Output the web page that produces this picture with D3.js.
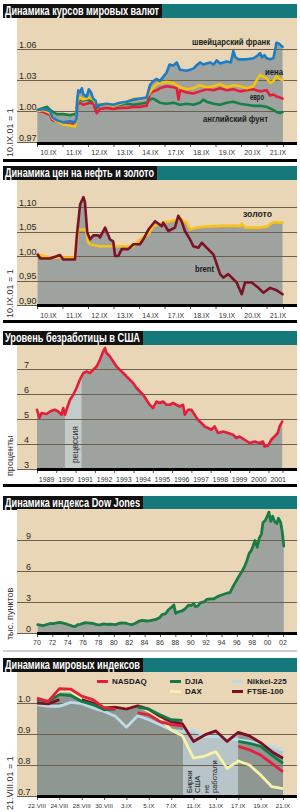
<!DOCTYPE html>
<html><head><meta charset="utf-8">
<script src="https://cdn.jsdelivr.net/npm/d3@7"></script>
<style>body{margin:0;background:#fff}svg{display:block}</style>
</head><body><svg id="c" width="300" height="812"></svg>
<script>
// ---------- DATA ----------
const dayLabels = ['10.IX','11.IX','12.IX','13.IX','14.IX','17.IX','18.IX','19.IX','20.IX','21.IX'];
const curTicks1 = ['1.06','1.03','1.00','0.97'];
const curTickVals1 = [1.06,1.03,1.00,0.97];
const chf = [[0.03,1.001],[0.25,1.002],[0.51,1.000],[0.6,0.994],[0.77,0.991],[1.03,0.989],[1.29,0.990],[1.49,0.989],[1.55,0.993],[1.58,1.012],[1.62,1.020],[1.69,1.018],[1.76,1.022],[1.82,1.016],[1.95,1.014],[2.03,1.021],[2.12,1.018],[2.2,1.012],[2.3,1.010],[2.34,1.005],[2.47,1.006],[2.73,1.007],[2.99,1.006],[3.25,1.008],[3.52,1.009],[3.78,1.011],[4.04,1.012],[4.30,1.013],[4.43,1.025],[4.56,1.029],[4.69,1.031],[4.82,1.029],[4.95,1.033],[5.08,1.037],[5.2,1.045],[5.35,1.044],[5.48,1.047],[5.61,1.040],[5.87,1.039],[6.13,1.041],[6.25,1.044],[6.39,1.047],[6.52,1.045],[6.65,1.046],[6.79,1.047],[6.92,1.045],[7.05,1.049],[7.18,1.046],[7.44,1.048],[7.6,1.047],[7.70,1.058],[7.78,1.052],[7.90,1.050],[8.22,1.050],[8.48,1.051],[8.62,1.053],[8.75,1.056],[8.82,1.052],[8.92,1.054],[9.01,1.051],[9.14,1.050],[9.27,1.051],[9.33,1.058],[9.39,1.066],[9.5,1.065],[9.63,1.062]];
const jpy = [[0.03,1.000],[0.25,1.001],[0.51,0.998],[0.6,0.993],[0.77,0.990],[1.03,0.987],[1.29,0.986],[1.49,0.985],[1.55,0.990],[1.58,1.010],[1.69,1.013],[1.82,1.011],[1.95,1.012],[2.08,1.013],[2.21,1.011],[2.34,1.006],[2.47,1.007],[2.73,1.006],[2.99,1.005],[3.25,1.007],[3.52,1.009],[3.78,1.012],[4.04,1.011],[4.30,1.013],[4.43,1.018],[4.56,1.023],[4.69,1.026],[4.82,1.027],[5.08,1.028],[5.35,1.027],[5.61,1.023],[5.87,1.021],[6.13,1.022],[6.39,1.025],[6.65,1.023],[6.92,1.024],[7.18,1.026],[7.44,1.023],[7.70,1.025],[7.96,1.024],[8.22,1.022],[8.48,1.024],[8.62,1.030],[8.75,1.035],[8.88,1.033],[9.01,1.032],[9.14,1.027],[9.27,1.029],[9.39,1.034],[9.53,1.031],[9.63,1.030]];
const eur = [[0.03,1.000],[0.25,0.999],[0.51,0.996],[0.6,0.991],[0.77,0.990],[1.03,0.988],[1.29,0.987],[1.49,0.988],[1.55,0.990],[1.58,1.006],[1.69,1.008],[1.82,1.006],[1.95,1.007],[2.08,1.008],[2.21,1.007],[2.34,0.998],[2.47,1.002],[2.73,1.003],[2.99,1.002],[3.25,1.003],[3.52,1.003],[3.78,1.004],[4.04,1.004],[4.30,1.005],[4.43,1.017],[4.56,1.019],[4.69,1.020],[4.82,1.022],[5.08,1.024],[5.35,1.023],[5.48,1.022],[5.55,1.011],[5.61,1.020],[5.87,1.018],[6.13,1.017],[6.39,1.019],[6.65,1.021],[6.92,1.020],[7.18,1.022],[7.44,1.020],[7.70,1.021],[7.96,1.019],[8.22,1.020],[8.48,1.021],[8.75,1.019],[9.01,1.020],[9.14,1.015],[9.27,1.016],[9.39,1.014],[9.53,1.013],[9.63,1.012]];
const gbp = [[0.03,1.001],[0.25,1.003],[0.4,1.004],[0.51,1.001],[0.77,0.997],[1.03,0.997],[1.29,0.996],[1.49,0.997],[1.55,0.999],[1.58,1.010],[1.69,1.011],[1.82,1.010],[1.95,1.011],[2.08,1.010],[2.21,1.009],[2.34,1.003],[2.47,1.006],[2.73,1.006],[2.99,1.005],[3.25,1.006],[3.52,1.007],[3.78,1.006],[4.04,1.007],[4.30,1.008],[4.43,1.011],[4.56,1.012],[4.69,1.010],[4.82,1.008],[5.08,1.007],[5.35,1.008],[5.61,1.006],[5.87,1.007],[6.13,1.006],[6.39,1.008],[6.52,1.011],[6.65,1.009],[6.92,1.007],[7.18,1.006],[7.44,1.008],[7.70,1.009],[7.96,1.007],[8.22,1.006],[8.48,1.005],[8.75,1.005],[9.01,1.004],[9.27,1.001],[9.39,0.999],[9.53,0.998],[9.63,0.999]];

const oilTicks = ['1,10','1,05','1,00','0,95','0,90'];
const oilTickVals = [1.10,1.05,1.00,0.95,0.90];
const brent = [[0.03,1.003],[0.12,0.995],[0.51,0.995],[0.90,1.002],[1.03,0.993],[1.49,0.993],[1.56,1.040],[1.69,1.105],[1.82,1.120],[1.88,1.110],[1.97,1.048],[2.08,1.034],[2.21,1.042],[2.41,1.042],[2.47,1.038],[2.67,1.058],[2.86,1.034],[2.99,1.030],[3.06,1.000],[3.19,1.000],[3.32,1.014],[3.58,1.014],[3.78,1.024],[4.04,1.024],[4.17,1.034],[4.37,1.054],[4.63,1.071],[4.89,1.061],[4.95,1.068],[5.15,1.051],[5.41,1.058],[5.54,1.082],[5.67,1.071],[5.80,1.051],[6.0,1.034],[6.13,1.020],[6.33,1.017],[6.46,1.027],[6.65,1.017],[6.92,1.003],[7.18,0.963],[7.31,0.956],[7.50,0.963],[7.83,0.946],[8.03,0.922],[8.16,0.946],[8.42,0.946],[8.68,0.935],[8.88,0.925],[9.14,0.935],[9.40,0.930],[9.63,0.922]];
const gold = [[0.03,1.003],[0.51,0.997],[1.49,0.997],[1.62,1.054],[1.92,1.054],[2.01,1.027],[2.08,1.024],[2.47,1.020],[3.12,1.020],[3.78,1.020],[4.04,1.034],[4.37,1.044],[4.56,1.061],[4.95,1.068],[5.22,1.071],[5.61,1.076],[5.87,1.068],[6.0,1.054],[6.26,1.058],[6.65,1.060],[7.44,1.062],[7.96,1.061],[8.03,1.066],[8.16,1.058],[8.75,1.058],[9.01,1.060],[9.27,1.069],[9.63,1.068]];

const yearLabels = ['1989','1990','1991','1992','1993','1994','1995','1996','1997','1998','1999','2000','2001'];
const unempTicks = [7,6,5,4,3];
const unemp = [[1989.0,5.37],[1989.12,5.04],[1989.24,5.24],[1989.5,5.2],[1989.67,5.3],[1989.93,5.37],[1990.1,5.3],[1990.28,5.17],[1990.36,5.44],[1990.45,5.17],[1990.53,5.37],[1990.71,5.77],[1990.88,5.97],[1991.05,6.24],[1991.22,6.57],[1991.4,6.84],[1991.57,6.9],[1991.74,6.84],[1991.91,6.97],[1992.09,7.1],[1992.26,7.37],[1992.43,7.7],[1992.52,7.84],[1992.6,7.64],[1992.78,7.5],[1992.95,7.3],[1993.12,7.1],[1993.29,6.97],[1993.47,6.84],[1993.64,6.7],[1993.81,6.57],[1993.98,6.44],[1994.16,6.24],[1994.33,6.1],[1994.5,5.97],[1994.67,5.77],[1994.84,5.57],[1995.02,5.44],[1995.19,5.7],[1995.36,5.64],[1995.53,5.7],[1995.71,5.57],[1995.88,5.57],[1996.05,5.64],[1996.22,5.57],[1996.4,5.5],[1996.57,5.57],[1996.66,5.17],[1996.83,5.37],[1997.0,5.37],[1997.17,5.17],[1997.34,4.97],[1997.52,4.84],[1997.69,4.7],[1997.86,4.64],[1998.03,4.57],[1998.21,4.7],[1998.38,4.44],[1998.64,4.5],[1998.9,4.44],[1999.16,4.37],[1999.33,4.24],[1999.5,4.3],[1999.76,4.17],[2000.02,4.04],[2000.28,4.1],[2000.53,4.04],[2000.71,4.1],[2000.79,3.9],[2000.97,3.93],[2001.14,4.17],[2001.31,4.3],[2001.48,4.44],[2001.57,4.7],[2001.71,4.9]];
const recession = [1990.45, 1991.31];

const dowLabels = ['70','72','74','76','78','80','82','84','86','88','90','92','94','96','98','00','02'];
const dowTicks = [9,6,3,0];
const dow = [[1970.1,0.80],[1970.8,0.72],[1971.7,0.92],[1972.1,0.90],[1972.6,0.97],[1973.0,1.02],[1973.4,0.95],[1973.9,0.85],[1974.5,0.70],[1974.96,0.62],[1975.3,0.80],[1975.6,0.84],[1976.3,1.0],[1976.6,0.98],[1976.9,0.96],[1977.3,0.92],[1977.8,0.82],[1978.2,0.78],[1978.65,0.88],[1979.1,0.84],[1979.5,0.86],[1980.2,0.80],[1980.6,0.92],[1981.04,0.97],[1981.5,0.95],[1981.9,0.87],[1982.3,0.80],[1982.8,0.95],[1983.2,1.12],[1983.65,1.22],[1984.3,1.16],[1984.7,1.2],[1985.2,1.28],[1985.6,1.35],[1985.96,1.50],[1986.3,1.80],[1986.7,1.85],[1987.1,2.25],[1987.6,2.55],[1987.8,2.72],[1988.04,1.90],[1988.4,2.05],[1988.9,2.15],[1989.3,2.35],[1989.7,2.70],[1990.04,2.65],[1990.4,2.85],[1990.6,2.55],[1990.9,2.60],[1991.3,2.95],[1991.7,3.00],[1992.1,3.25],[1992.6,3.30],[1993.0,3.30],[1993.4,3.50],[1993.9,3.65],[1994.3,3.75],[1994.7,3.85],[1995.1,3.90],[1995.4,4.35],[1995.7,4.75],[1996.04,5.20],[1996.4,5.65],[1996.7,6.00],[1997.04,6.50],[1997.3,7.00],[1997.6,7.70],[1997.9,8.00],[1998.1,8.40],[1998.35,8.95],[1998.65,8.30],[1998.9,9.15],[1999.2,9.60],[1999.4,10.70],[1999.7,10.90],[1999.96,11.30],[2000.17,11.70],[2000.4,10.80],[2000.65,11.30],[2000.9,10.80],[2001.2,10.60],[2001.4,11.10],[2001.7,10.70],[2001.9,9.80],[2002.1,8.40]];

const idxLabels = ['22.VIII','24.VIII','28.VIII','30.VIII','3.IX','5.IX','7.IX','11.IX','13.IX','17.IX','19.IX','21.IX'];
const idxTickLabels = ['1.0','0.9','0.8','0.7'];
const idxTickVals = [1.0,0.9,0.8,0.7];
const nasdaq = [1.016,1.005,1.046,1.045,1.022,1.011,0.984,0.980,null,0.968,0.962,0.940,0.930,0.926,null,null,null,null,0.860,0.849,0.832,0.805,0.778];
const djia   = [1.011,1.005,1.027,1.024,1.005,0.995,0.978,0.980,null,0.987,0.980,0.962,0.946,0.944,null,null,null,null,0.876,0.870,0.860,0.832,0.805];
const dax    = [1.013,1.003,1.038,1.038,1.016,1.000,0.989,0.989,0.980,0.991,0.973,0.951,0.913,0.894,0.822,0.829,0.843,0.789,0.813,0.800,0.768,0.730,0.724];
const nikkei = [0.995,0.989,0.989,1.002,0.998,0.984,0.973,0.957,0.922,0.959,0.946,0.930,0.913,0.908,0.913,0.892,0.892,0.886,0.881,0.876,0.865,0.859,0.849];
const ftse   = [1.000,0.997,1.011,null,1.011,1.000,0.984,0.987,0.980,0.991,0.980,0.957,0.940,0.933,0.876,0.897,0.910,0.876,0.905,0.894,0.872,0.843,0.822];
const closedRange = [13.05, 18];

// ---------- STYLE ----------
const svg = d3.select('#c');
const BEIGE = '#e9d6b6', AREA = '#9ea39f', GRID = '#6c5f4e', TEAL = '#15797b';
const NARROW = "'Liberation Sans Narrow','Arial Narrow','Liberation Sans',sans-serif";
const L = 17, R = 297, X0 = 37;

function titleBar(y, text, w) {
  svg.append('rect').attr('x', 3).attr('y', y).attr('width', R - 3).attr('height', 14).attr('fill', TEAL);
  svg.append('rect').attr('x', 3).attr('y', y).attr('width', w).attr('height', 14).attr('fill', '#111');
  svg.append('text').attr('x', 5).attr('y', y + 11).text(text)
    .attr('fill', '#fff').attr('font-family', NARROW).attr('font-weight', 'bold')
    .attr('font-size', 12.5).attr('textLength', w - 5).attr('lengthAdjust', 'spacingAndGlyphs');
}
function beige(top, bottom) {
  svg.append('rect').attr('x', L).attr('y', top).attr('width', R - L).attr('height', bottom - top).attr('fill', BEIGE);
}
function grid(y, vals, labels, lx) {
  vals.forEach((v, i) => {
    svg.append('line').attr('x1', L).attr('x2', R).attr('y1', Math.round(y(v)) + 0.5).attr('y2', Math.round(y(v)) + 0.5)
      .attr('stroke', GRID).attr('stroke-width', 1);
    svg.append('text').attr('x', lx).attr('y', y(v) - 1.5).text(labels[i])
      .attr('font-family', NARROW).attr('font-size', 9).attr('fill', '#2a2a2a');
  });
}
function xAxis(bottom, x, tickVals, labelPos, labels, labelY, fs) {
  const ax = d3.axisBottom(x).tickValues(tickVals).tickSize(4).tickFormat('');
  const g = svg.append('g').attr('transform', `translate(0,${bottom})`).call(ax);
  g.select('.domain').remove();
  g.selectAll('line').attr('stroke', '#555');
  svg.append('rect').attr('x', X0).attr('y', bottom - 1).attr('width', R - X0).attr('height', 3).attr('fill', '#000');
  svg.selectAll(null).data(labels).enter().append('text')
    .attr('x', (d, i) => x(labelPos[i])).attr('y', labelY).attr('text-anchor', 'middle')
    .attr('font-family', NARROW).attr('font-size', fs || 7).attr('fill', '#333').text(d => d);
}
function sideLabel(x, y, text, size) {
  svg.append('text').attr('transform', `translate(${x},${y}) rotate(-90)`).text(text)
    .attr('font-family', "'Liberation Sans',sans-serif").attr('font-size', size || 9).attr('fill', '#333');
}
function seriesLabel(x, y, text, w) {
  svg.append('text').attr('x', x).attr('y', y).text(text).attr('font-family', NARROW)
    .attr('font-weight', 'bold').attr('font-size', 9.5).attr('fill', '#1a1a1a')
    .attr('textLength', w).attr('lengthAdjust', 'spacingAndGlyphs');
}
function sep(y, color, h) {
  svg.append('rect').attr('x', 3).attr('y', y).attr('width', R - 3).attr('height', h).attr('fill', color);
}
function drawLine(data, x, y, color, w) {
  svg.append('path').datum(data).attr('fill', 'none').attr('stroke', color).attr('stroke-width', w || 2.6)
    .attr('stroke-linejoin', 'round').attr('stroke-linecap', 'round')
    .attr('d', d3.line().x(d => x(d[0])).y(d => y(d[1])));
}
function drawArea(data, x, y, base, fill, clip) {
  const p = svg.append('path').datum(data).attr('fill', fill)
    .attr('d', d3.area().x(d => x(d[0])).y0(base).y1(d => y(d[1])));
  if (clip) p.attr('clip-path', `url(#${clip})`);
}
const defs = svg.append('defs');
function clipRect(id, rects) {
  const c = defs.append('clipPath').attr('id', id);
  rects.forEach(r => c.append('rect').attr('x', r[0]).attr('y', 0).attr('width', r[1] - r[0]).attr('height', 812));
}

// ---------- PANEL 1: currencies ----------
{
  const top = 18, bottom = 143;
  titleBar(4, 'Динамика курсов мировых валют', 159);
  beige(top, bottom);
  const x = d3.scaleLinear().domain([0, 10]).range([X0, X0 + 255]);
  const y = d3.scaleLinear().domain([0.97, 1.06]).range([142, 49]);
  [chf, jpy, eur, gbp].forEach(s => drawArea(s, x, y, 142, AREA));
  grid(y, curTickVals1, curTicks1, 19);
  drawLine(gbp, x, y, '#168048');
  drawLine(eur, x, y, '#e51e3c');
  drawLine(jpy, x, y, '#f5c20c');
  drawLine(chf, x, y, '#1d7cc4');
  seriesLabel(192, 45, 'швейцарский франк', 78);
  seriesLabel(265, 75, 'иена', 18);
  seriesLabel(250, 100, 'евро', 14);
  seriesLabel(203, 122, 'английский фунт', 65);
  xAxis(bottom, x, d3.range(0, 10).concat([9.65]), d3.range(0, 10).map(d => d + 0.45), dayLabels, 155);
  sideLabel(13, 157, '10.IX.01 = 1');
  sep(159, '#000', 3);
}

// ---------- PANEL 2: oil & gold ----------
{
  const top = 180, bottom = 305;
  titleBar(166, 'Динамика цен на нефть и золото', 154);
  beige(top, bottom);
  const x = d3.scaleLinear().domain([0, 10]).range([X0, X0 + 255]);
  const y = d3.scaleLinear().domain([0.90, 1.10]).range([305, 207]);
  [brent, gold].forEach(s => drawArea(s, x, y, 305, AREA));
  grid(y, oilTickVals, oilTicks, 19);
  drawLine(gold, x, y, '#f8c315');
  drawLine(brent, x, y, '#7c1226');
  seriesLabel(243, 217, 'золото', 29);
  seriesLabel(195, 272, 'brent', 19);
  xAxis(bottom, x, d3.range(0, 10).concat([9.65]), d3.range(0, 10).map(d => d + 0.45), dayLabels, 318);
  sideLabel(13, 318, '10.IX.01 = 1');
  sep(320, '#000', 3);
}

// ---------- PANEL 3: US unemployment ----------
{
  const top = 345, bottom = 469;
  titleBar(331, 'Уровень безработицы в США', 140);
  beige(top, bottom);
  const x = d3.scaleLinear().domain([1989, 2001.75]).range([X0, 283]);
  const y = d3.scaleLinear().domain([3, 7]).range([469, 369]);
  drawArea(unemp, x, y, 469, AREA);
  clipRect('rec', [[x(recession[0]), x(recession[1])]]);
  drawArea(unemp, x, y, 469, '#c3ccc8', 'rec');
  grid(y, unempTicks, unempTicks.map(String), 24);
  drawLine(unemp, x, y, '#e41d3b');
  svg.append('text').attr('transform', `translate(${x(recession[1]) - 4},463) rotate(-90)`).text('рецессия')
    .attr('font-family', NARROW).attr('font-size', 8.5).attr('fill', '#333');
  const yrs = d3.range(1989, 2002);
  xAxis(bottom, x, yrs.concat([2001.72]), yrs.map(v => v + 0.5), yearLabels, 482);
  sideLabel(13, 476, 'проценты');
  sep(484, '#000', 3);
}

// ---------- PANEL 4: Dow Jones ----------
{
  const top = 509, bottom = 633;
  titleBar(496, 'Динамика индекса Dow Jones', 140);
  beige(top, bottom);
  const x = d3.scaleLinear().domain([1970, 2002]).range([X0, 283]);
  const y = d3.scaleLinear().domain([0, 9]).range([633, 540]);
  drawArea(dow, x, y, 633, AREA);
  grid(y, dowTicks, dowTicks.map(String), 26);
  drawLine(dow, x, y, '#1b7b45', 2.8);
  const yrs = d3.range(1970, 2003, 2);
  xAxis(bottom, x, yrs, yrs, dowLabels, 645);
  sideLabel(13, 640, 'тыс. пунктов');
  sep(650, '#cfcfcf', 2);
}

// ---------- PANEL 5: world indices ----------
{
  const top = 672, bottom = 796;
  titleBar(658, 'Динамика мировых индексов', 140);
  beige(top, bottom);
  const x = d3.scaleLinear().domain([0, 22]).range([X0, 283]);
  const y = d3.scaleLinear().domain([0.7, 1.0]).range([796, 703]);
  const pts = arr => arr.map((v, i) => [i, v]);
  const ar = d3.area().defined(d => d[1] != null).x(d => x(d[0])).y0(796).y1(d => y(d[1]));
  const ln = d3.line().defined(d => d[1] != null).x(d => x(d[0])).y(d => y(d[1]));
  clipRect('open', [[0, x(closedRange[0])], [x(closedRange[1]), 300]]);
  [nasdaq, djia, dax, nikkei, ftse].forEach(s =>
    svg.append('path').datum(pts(s)).attr('fill', '#b8c5c8').attr('d', ar));
  [nasdaq, djia, dax, ftse].forEach(s =>
    svg.append('path').datum(pts(s)).attr('fill', '#8f9793').attr('clip-path', 'url(#open)').attr('d', ar));
  grid(y, idxTickVals, idxTickLabels, 18);
  const series = [[nikkei, '#bcd9e8'], [dax, '#f7f2a6'], [ftse, '#7c1022'], [djia, '#137a46'], [nasdaq, '#e4203d']];
  series.forEach(([s, c]) => svg.append('path').datum(pts(s)).attr('fill', 'none').attr('stroke', c)
    .attr('stroke-width', 2.8).attr('stroke-linejoin', 'round').attr('d', ln));
  // legend
  const leg = [['NASDAQ', '#e4203d', 97, 684], ['DJIA', '#137a46', 170, 684], ['Nikkei-225', '#bcd9e8', 232, 684],
               ['DAX', '#f7f2a6', 170, 694], ['FTSE-100', '#7c1022', 232, 694]];
  leg.forEach(([t, c, lx, ly]) => {
    svg.append('rect').attr('x', lx).attr('y', ly - 4).attr('width', 11).attr('height', 3).attr('fill', c);
    svg.append('text').attr('x', lx + 15).attr('y', ly).text(t).attr('font-family', "'Liberation Sans',sans-serif")
      .attr('font-weight', 'bold').attr('font-size', 8).attr('fill', '#1a1a1a');
  });
  // closed-market note
  const note = ['Биржи', 'США', 'не', 'работали'];
  note.forEach((t, i) => svg.append('text').attr('transform', `translate(${192 + i * 8.3},793) rotate(-90)`)
    .text(t).attr('font-family', NARROW).attr('font-size', 7.5).attr('fill', '#222'));
  const ti = d3.range(0, 23, 2);
  xAxis(bottom, x, ti, ti, idxLabels, 808, 6.2);
  sideLabel(13, 810, '21.VIII.01 = 1');
}
</script></body></html>
